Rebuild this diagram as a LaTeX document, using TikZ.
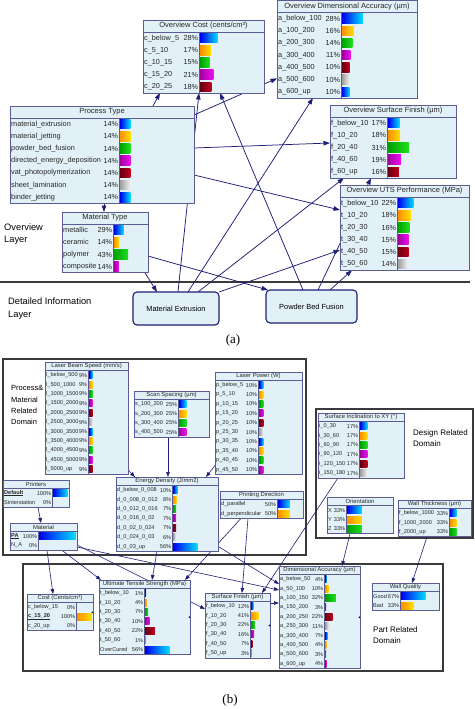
\documentclass[tikz,border=0pt]{standalone}
\usepackage{fontspec}
\setmainfont{Liberation Sans}
\newfontfamily\capfont{Liberation Serif}
\usetikzlibrary{arrows.meta}
\pgfdeclarelayer{bg}
\pgfsetlayers{bg,main}
\definecolor{bnfill}{HTML}{E2F1F7}
\definecolor{bnborder}{HTML}{5B5B96}
\definecolor{arrc}{HTML}{1E1E78}
\definecolor{domc}{HTML}{3A3A3A}
\definecolor{blA}{HTML}{0000F0}\definecolor{blB}{HTML}{00E0FF}
\definecolor{orA}{HTML}{FF9000}\definecolor{orB}{HTML}{FFE000}
\definecolor{grA}{HTML}{00A000}\definecolor{grB}{HTML}{20E020}
\definecolor{mgA}{HTML}{A000A0}\definecolor{mgB}{HTML}{F010F0}
\definecolor{rdA}{HTML}{6A0010}\definecolor{rdB}{HTML}{C00020}
\definecolor{gyA}{HTML}{A0A0A0}\definecolor{gyB}{HTML}{F4F4F4}

\def\bnT{12}\def\bnP{12.2}\def\bnB{9.5}
\def\bnTfont{\fontsize{7.5}{8}\selectfont}
\def\bnRfont{\fontsize{7.3}{8}\selectfont}
\def\bnLW{0.8pt}

\tikzset{
 bnframe/.style={draw=bnborder, fill=bnfill, line width=\bnLW, inner sep=0pt, outer sep=0pt, rectangle},
 bntitle/.style={font=\bnTfont, inner sep=0pt, text=black!85},
 bnrow/.style={font=\bnRfont, inner sep=0pt, text=black!85},
 bnline/.style={draw=bnborder, line width=\bnLW},
 arr/.style={draw=arrc, line width=0.75pt, -{Triangle[length=6.5pt,width=4.5pt]}},
 arrb/.style={draw=arrc, line width=0.6pt, -{Triangle[length=5pt,width=3.6pt]}},
 detbox/.style={draw=arrc, fill=bnfill, line width=1.1pt, rounded corners=4pt, inner sep=0pt, outer sep=0pt, font=\fontsize{7.4}{8}\selectfont},
 domrect/.style={draw=domc, line width=1.1pt},
 lbl/.style={align=left, inner sep=0pt, anchor=north west},
}

% #1 name, #2 x1, #3 y1, #4 x2, #5 divider x, #6 rows, #7 title, #8 rows list
\newcommand\bnbox[8]{%
  \pgfmathsetmacro\bnyb{#3+\bnT}%
  \pgfmathsetmacro\bnybot{\bnyb+#6*\bnP}%
  \pgfmathsetmacro\bnw{#4-#2}%
  \pgfmathsetmacro\bnh{\bnybot-#3}%
  \pgfmathsetmacro\bnbw{#4-#5-2.5}%
  \node[bnframe, minimum width=\bnw pt, minimum height=\bnh pt, anchor=north west] (#1) at (#2,#3) {};
  \node[bntitle] (#1t) at ({(#2+#4)/2},{#3+\bnT/2}) {#7};
  \draw[bnline] (#2,\bnyb) -- (#4,\bnyb);
  \draw[bnline] (#5,\bnyb) -- (#5,\bnybot);
  \foreach \lab/\pc/\col [count=\i] in {#8} {%
    \pgfmathsetmacro\bnyy{\bnyb+(\i-0.5)*\bnP}%
    \node[bnrow, anchor=west] (#1l\i) at (#2+1,\bnyy) {\lab};
    \node[bnrow, anchor=east] (#1p\i) at (#5-0.6,\bnyy) {\pc\%};
    \pgfmathsetmacro\bnbl{max(\pc/100*\bnbw,1)}%
    \edef\cA{\col A}\edef\cB{\col B}%
    \ifnum\pc>0 \shade[left color=\cA, right color=\cB] (#5+1.2,\bnyy-\bnB/2) rectangle ++(\bnbl,\bnB);\fi
  }%
}

\begin{document}
\catcode`\_=12
\begin{tikzpicture}[x=1pt,y=-1pt]
\useasboundingbox (0,0) rectangle (474,709);

%================ PART (a) ================
\bnbox{dacc}{277}{0.5}{417}{341}{7}{Overview Dimensional Accuracy (µm)}{a_below_100/28/bl, a_100_200/16/or, a_200_300/14/gr, a_300_400/11/mg, a_400_500/10/rd, a_500_600/10/gy, a_600_up/10/bl}
\bnbox{cost}{143}{20}{264}{199}{5}{Overview Cost (cents/cm³)}{c_below_5/28/bl, c_5_10/17/or, c_10_15/15/gr, c_15_20/21/mg, c_20_25/18/rd}
\bnbox{sfin}{330}{105}{456}{387}{5}{Overview Surface Finish (µm)}{f_below_10/17/bl, f_10_20/18/or, f_20_40/31/gr, f_40_60/19/mg, f_60_up/16/rd}
\bnbox{uts}{340}{185}{469}{397}{6}{Overview UTS Performance (MPa)}{t_below_10/22/bl, t_10_20/18/or, t_20_30/16/gr, t_30_40/15/mg, t_40_50/15/rd, t_50_60/14/gy}
\bnbox{ptype}{10}{106}{194}{119}{7}{Process Type}{material_extrusion/14/bl, material_jetting/14/or, powder_bed_fusion/14/gr, directed_energy_deposition/14/mg, vat_photopolymerization/14/rd, sheet_lamination/14/gy, binder_jetting/14/bl}
\bnbox{mtype}{62}{212}{148}{113}{4}{Material Type}{metallic/29/bl, ceramic/14/or, polymer/43/gr, composite/14/mg}

\node[detbox, minimum width=86pt, minimum height=33pt, anchor=north west] (me) at (133,292) {Material Extrusion};
\node[detbox, minimum width=91pt, minimum height=33pt, anchor=north west] (pbf) at (266,290) {Powder Bed Fusion};

\node[lbl, font=\fontsize{9.3}{12}\selectfont] (ovl) at (4,223.8) {Overview\\Layer};
\node[lbl, font=\fontsize{9.3}{13}\selectfont] (dil) at (8,297.8) {Detailed Information\\Layer};
\node[inner sep=0pt, font=\capfont\fontsize{13}{14}\selectfont] (capa) at (233,340) {(a)};

%================ PART (b) ================
\def\bnT{8.5}\def\bnP{9.4}\def\bnB{7}
\def\bnTfont{\fontsize{5.9}{6.5}\selectfont}
\def\bnRfont{\fontsize{5.6}{6}\selectfont}
\def\bnLW{0.7pt}

\bnbox{lbs}{45}{362}{128}{88}{11}{Laser Beam Speed (mm/s)}{l_below_500/9/bl, l_500_1000/9/or, l_1000_1500/9/gr, l_1500_2000/9/mg, l_2000_2500/9/rd, l_2500_3000/9/gy, l_3000_3500/9/bl, l_3500_4000/9/or, l_4000_4500/9/gr, l_4500_5000/9/mg, l_5000_up/9/rd}
\bnbox{ssp}{134}{391}{209}{178}{4}{Scan Spacing (µm)}{s_100_200/25/bl, s_200_300/25/or, s_300_400/25/gr, s_400_500/25/mg}
\bnbox{lpw}{215}{372}{302}{258}{10}{Laser Power (W)}{p_below_5/10/bl, p_5_10/10/or, p_10_15/10/gr, p_15_20/10/mg, p_20_25/10/rd, p_25_30/10/gy, p_30_35/10/bl, p_35_40/10/or, p_40_45/10/gr, p_45_50/10/mg}
\bnbox{sinc}{318}{413}{404}{359}{6}{Surface Inclination to XY (°)}{i_0_30/17/bl, i_30_60/17/or, i_60_90/17/gr, i_90_120/17/mg, i_120_150/17/rd, i_150_180/17/gy}
\bnbox{prn}{3}{480}{69}{52}{2}{Printers}{{\underline{\textbf{Default}}}/100/bl, Sinterstation/0/or}
\bnbox{mat}{10}{523}{77}{38}{2}{Material}{{\underline{\textbf{PA}}}/100/bl, N_A/0/or}
\bnbox{ened}{116}{477}{218}{172}{7}{Energy Density (J/mm2)}{d_below_0_008/10/bl, d_0_008_0_012/8/or, d_0_012_0_016/7/gr, d_0_016_0_02/7/mg, d_0_02_0_024/7/rd, d_0_024_0_03/6/gy, d_0_03_up/56/bl}
\bnbox{pdir}{220}{491}{303}{277}{2}{Printing Direction}{d_parallel/50/bl, d_perpendicular/50/or}
\bnbox{ori}{327}{497}{393}{346}{3}{Orientation}{X/33/bl, Y/33/or, Z/33/gr}
\bnbox{wth}{398}{500}{471}{449}{3}{Wall Thickness (µm)}{f_below_1000/33/bl, f_1000_2000/33/or, f_2000_up/33/gr}
\bnbox{dacb}{279}{566}{360}{324}{10}{Dimensional Accuracy (µm)}{a_below_50/4/bl, a_50_100/10/or, a_100_150/32/gr, a_150_200/3/mg, a_200_250/22/rd, a_250_300/11/gy, a_300_400/7/bl, a_400_500/4/or, a_500_600/3/gr, a_600_up/4/mg}
\bnbox{wq}{372}{583}{439}{400}{2}{Wall Quality}{Good/67/bl, Bad/33/or}
\bnbox{costb}{27}{594}{93}{76}{3}{Cost (Cents/cm³)}{c_below_15/0/bl, {\underline{\textbf{c_15_20}}}/100/or, c_20_up/0/gr}
\bnbox{utsb}{99}{580}{190}{144}{7}{Ultimate Tensile Strength (MPa)}{t_below_10/1/bl, t_10_20/4/or, t_20_30/7/gr, t_30_40/10/mg, t_40_50/22/rd, t_50_60/1/gy, OverCured/56/bl}
\bnbox{sfb}{205}{593}{270}{250}{6}{Surface Finish (µm)}{f_below_10/12/bl, f_10_20/41/or, f_20_30/22/gr, f_30_40/16/mg, f_40_50/7/rd, f_50_up/3/gy}

\fill[black] ([xshift=-0.6pt]costb.east) circle (0.9pt);
\fill[black] ([xshift=-0.6pt]utsb.east) circle (0.9pt);
\fill[black] ([xshift=-0.6pt]sfb.east) circle (0.9pt);
\fill[black] ([xshift=-0.6pt]dacb.east) circle (0.9pt);

\node[lbl, font=\fontsize{7.5}{11.3}\selectfont] (dom1) at (11,385.6) {Process\&\\Material\\Related\\Domain};
\node[lbl, font=\fontsize{8}{11}\selectfont] (dom2) at (413,429.2) {Design Related\\Domain};
\node[lbl, font=\fontsize{8}{11}\selectfont] (dom3) at (373,626.2) {Part Related\\Domain};
\node[inner sep=0pt, font=\capfont\fontsize{13}{14}\selectfont] (capb) at (230,700) {(b)};

%================ BACKGROUND: frames and connectors ================
\begin{pgfonlayer}{bg}
\fill[white] (0,0) rectangle (474,709);
\draw[domc, line width=1.4pt] (0,282) -- (470,282);
\draw[domrect] (3,359) rectangle (306,555);
\draw[domrect] (316,409) rectangle (473,538);
\draw[domrect] (23,564) rectangle (443,671);

% part (a)
\draw[arr] ([xshift=94pt]ptype.south west) -- ([xshift=42pt]mtype.north west);
\draw[arr] ([xshift=143pt]ptype.north west) -- ([xshift=17pt]cost.south west);
\draw[arr] ([yshift=-9pt]ptype.north east) -- ([yshift=19.5pt]dacc.south west);
\draw[arr] ([yshift=-42pt]ptype.north east) -- ([yshift=-38pt]sfin.north west);
\draw[arr] ([yshift=-69pt]ptype.north east) -- ([yshift=-25pt]uts.north west);
\draw[arr] ([xshift=-3pt]mtype.south east) -- ([xshift=24pt]me.north west);
\draw[arr] ([yshift=-44pt]mtype.north east) -- ([xshift=2pt]pbf.north west);
\draw[arr] ([xshift=45pt]me.north west) -- ([xshift=56pt]cost.south west);
\draw[arr] ([xshift=55pt]me.north west) -- ([xshift=36pt]dacc.south west);
\draw[arr] ([xshift=65pt]me.north west) -- ([xshift=14pt]sfin.south west);
\draw[arr] (me.north east) -- ([yshift=-65pt]uts.north west);
\draw[arr] ([xshift=37pt]pbf.north west) -- ([xshift=77pt]cost.south west);
\draw[arr] ([xshift=52pt]pbf.north west) -- ([xshift=41pt]sfin.south west);
\draw[arr] ([xshift=64pt]pbf.north west) -- ([xshift=12pt]uts.south west);

% part (b)
\draw[arrb] ([yshift=4pt]lbs.south east) -- ([xshift=19pt]ened.north west);
\draw[arrb] ([xshift=34pt]ssp.south west) -- ([xshift=52pt]ened.north west);
\draw[arrb] ([yshift=9pt]lpw.south west) -- ([xshift=90pt]ened.north west);
\draw[arrb] ([xshift=35pt]prn.south west) -- ([xshift=31pt]mat.north west);
\draw[arrb] ([xshift=37pt]mat.south west) -- ([xshift=26pt]costb.north west);
\draw[arrb] ([xshift=52pt]mat.south west) -- ([xshift=2pt]utsb.north west);
\draw[arrb] ([yshift=-22pt]mat.north east) -- ([yshift=-16pt]sfb.north west);
\draw[arrb] ([yshift=-24pt]mat.north east) -- ([yshift=-24pt]dacb.north west);
\draw[arrb] ([xshift=41pt]ened.south west) -- ([xshift=53pt]utsb.north west);
\draw[arrb] ([yshift=5pt]ened.south east) -- ([yshift=-18pt]dacb.north west);
\draw[arrb] ([xshift=21pt]pdir.south west) -- ([xshift=86pt]utsb.north west);
\draw[arrb] ([xshift=28pt]pdir.south west) -- ([xshift=37pt]sfb.north west);
\draw[arrb] ([xshift=20pt]sinc.south west) -- ([xshift=57pt]sfb.north west);
\draw[arrb] ([xshift=23pt]ori.south west) -- ([xshift=63pt]dacb.north west);
\draw[arrb] ([xshift=29pt]wth.south west) -- ([xshift=40pt]wq.north west);
\draw[arrb] ([yshift=-10pt]sfb.north east) -- ([yshift=-37pt]dacb.north west);
\end{pgfonlayer}
\end{tikzpicture}
\end{document}
